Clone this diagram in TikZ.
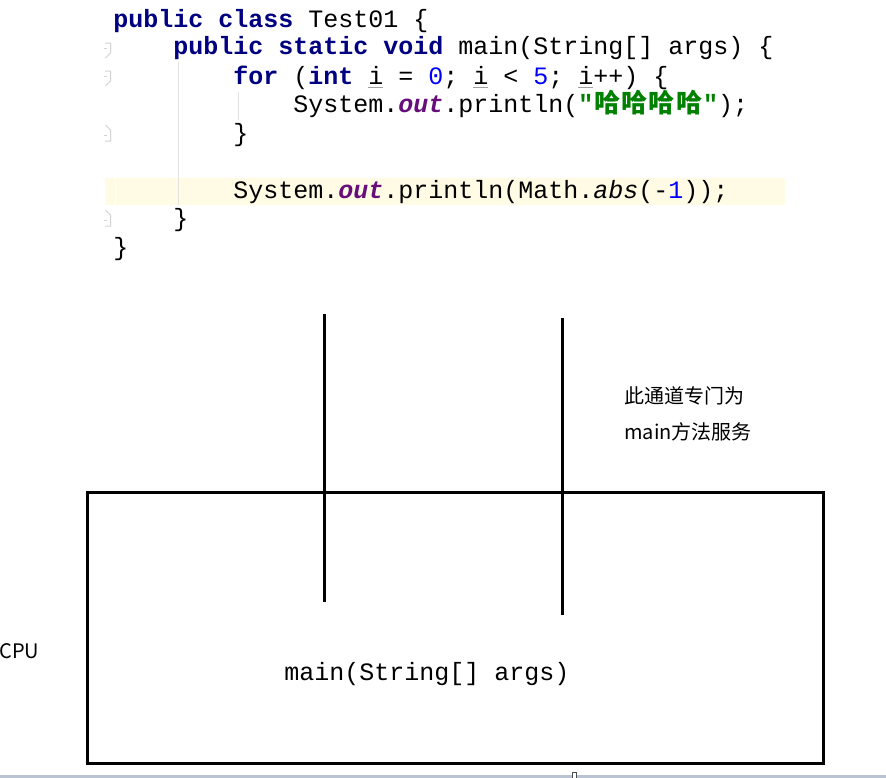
\documentclass[tikz,border=0pt]{standalone}
\usepackage{fontspec}
\setmainfont{Liberation Sans}
\setmonofont{Liberation Mono}
\newfontfamily\cjkfont{Noto Sans CJK SC}
\definecolor{kwblue}{HTML}{000080}
\definecolor{numblue}{HTML}{0000FF}
\definecolor{fldpurple}{HTML}{660E7A}
\definecolor{strgreen}{HTML}{008000}
\definecolor{ulgray}{HTML}{A0A0A0}
\definecolor{hlcream}{HTML}{FFFBE5}
\definecolor{guidegray}{HTML}{E2E2E2}
\definecolor{foldgray}{HTML}{D2D2D2}
\definecolor{barblue}{HTML}{B9C3D2}
\newcommand{\jkw}[1]{\textcolor{kwblue}{\bfseries #1}}
\newcommand{\jnum}[1]{\textcolor{numblue}{#1}}
\newcommand{\jfld}[1]{\textcolor{fldpurple}{\bfseries\itshape #1}}
\newcommand{\jui}{\rlap{\textcolor{ulgray}{\rule[-3.2pt]{11.25pt}{0.75pt}}}i}
\newcommand{\jhah}{\makebox[20.6pt]{\fontsize{19.5pt}{19.5pt}\cjkfont\bfseries 哈}}
\tikzset{
  code/.style={anchor=base west, inner sep=0pt, font=\ttfamily\fontsize{18.75pt}{20pt}\selectfont},
  label/.style={anchor=west, inner sep=0pt, font=\cjkfont\fontsize{15pt}{18pt}\selectfont},
  thick line/.style={line width=2.25pt, black},
  fold/.style={draw=foldgray, line width=0.75pt},
}
\begin{document}
\begin{tikzpicture}[x=0.75pt, y=-0.75pt]
\useasboundingbox (0,0) rectangle (886,778);
% highlight of current line
\fill[hlcream] (105,178) rectangle (785,205);
\draw[white, line width=0.75pt] (115,178) -- (115,205);
% indent guides
\draw[guidegray, line width=0.75pt] (178,62) -- (178,205);
\draw[guidegray, line width=0.75pt] (238,92) -- (238,120);
% fold markers
\draw[fold] (105,43) -- (110.5,43) -- (110.5,53) -- (105.5,58);
\draw[fold] (104,48.5) -- (107,48.5);
\draw[fold] (105,71) -- (110.5,71) -- (110.5,81) -- (105.5,86);
\draw[fold] (104,76.5) -- (107,76.5);
\draw[fold] (105.5,125) -- (110.5,130) -- (110.5,141) -- (105,141);
\draw[fold] (104,135.5) -- (107,135.5);
\draw[fold] (105.5,210) -- (110.5,215) -- (110.5,226) -- (105,226);
\draw[fold] (104,220.5) -- (107,220.5);
% code lines
\node[code] (c1) at (113,27) {\jkw{public} \jkw{class} Test01 \{};
\node[code] (c2) at (173,55) {\jkw{public} \jkw{static} \jkw{void} main(String[] args) \{};
\node[code] (c3) at (233,84) {\jkw{for} (\jkw{int} \jui{} = \jnum{0}; \jui{} < \jnum{5}; \jui{}++) \{};
\node[code] (c4) at (293,112) {System.\jfld{out}.println(\textcolor{strgreen}{\bfseries "\jhah\jhah\jhah\jhah"});};
\node[code] (c5) at (233,141) {\}};
\node[code] (c7) at (233,198) {System.\jfld{out}.println(Math.\textit{abs}(-\jnum{1}));};
\node[code] (c8) at (173,226) {\}};
\node[code] (c9) at (113,255) {\}};
% channels
\coordinate (a1) at (324,314);
\coordinate (a2) at (324,602);
\coordinate (b1) at (562,318);
\coordinate (b2) at (562,615);
\draw[thick line] (a1) -- (a2);
\draw[thick line] (b1) -- (b2);
% CPU box
\draw[thick line] (87,492) rectangle (823,763);
\node[code, anchor=base] (mainsig) at (427,680) {main(String[] args)};
\node[label] (cpu) at (-1,651) {CPU};
\node[label] (note1) at (624,396) {此通道专门为};
\node[label] (note2) at (624,432) {main方法服务};
% bottom bar
\fill[barblue] (0,775) rectangle (886,778);
\filldraw[fill=white, draw=black!70, line width=0.75pt] (572.5,772) rectangle (576.5,778);
\end{tikzpicture}
\end{document}
